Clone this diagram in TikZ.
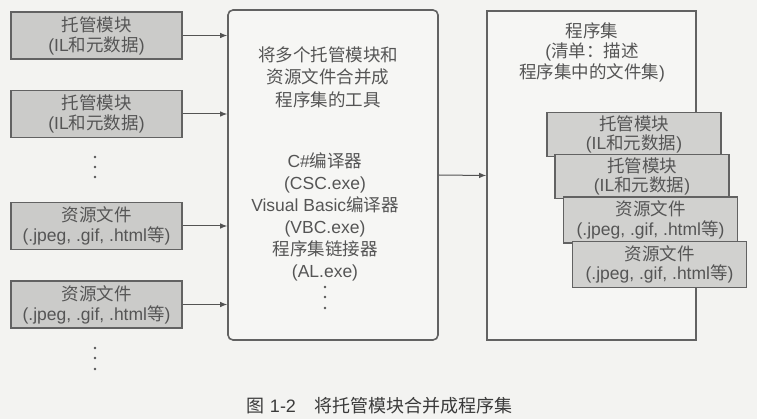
\documentclass[tikz,border=0pt]{standalone}
\usepackage{fontspec}
\setmainfont{Liberation Sans}
\newfontfamily\cjk{Noto Sans CJK SC}
\usetikzlibrary{arrows.meta}
\definecolor{bg}{HTML}{F3F3F1}
\definecolor{boxfill}{HTML}{CBCBC9}
\definecolor{stackfill}{HTML}{D1D1CF}
\definecolor{bordc}{HTML}{626262}
\definecolor{txt}{HTML}{555555}
\definecolor{capc}{HTML}{3A3A3A}
\definecolor{panel}{HTML}{F6F6F4}
\tikzset{
  modbox/.style={draw=bordc, line width=1.8pt, fill=boxfill, minimum width=171pt, minimum height=47pt, inner sep=0pt, align=center, text=txt, font=\fontsize{17.5}{20}\selectfont},
  stackbox/.style={draw=bordc, line width=1.8pt, fill=stackfill, minimum width=174pt, minimum height=44pt, inner sep=0pt, align=center, text=txt, font=\fontsize{17.5}{19.5}\selectfont},
  panelbox/.style={draw=bordc, line width=1.6pt, fill=panel, inner sep=0pt},
  lbl/.style={align=center, text=txt, inner sep=0pt},
  arr/.style={draw=bordc!85!black, line width=1pt, -{Latex[length=7pt,width=5.5pt]}},
  dot/.style={fill=txt}
}
\begin{document}
\begin{tikzpicture}[x=1pt,y=-1pt]
\fill[bg] (0,0) rectangle (757,419);
\useasboundingbox (0,0) rectangle (757,419);

% left input boxes
\node[modbox] (m1) at (96.5,35.5) {{\cjk 托管模块}\\({IL}{\cjk 和元数据})};
\node[modbox] (m2) at (96.5,114) {{\cjk 托管模块}\\({IL}{\cjk 和元数据})};
\node[modbox] (r1) at (96.5,226) {{\cjk 资源文件}\\(.jpeg, .gif, .html{\cjk 等})};
\node[modbox] (r2) at (96.5,304.5) {{\cjk 资源文件}\\(.jpeg, .gif, .html{\cjk 等})};
\foreach \yy in {157,167,177,348,358,369} \fill[dot] (95,\yy) circle (1.3pt);

% middle tool box
\node[panelbox, rounded corners=5pt, minimum width=210pt, minimum height=330pt] (mid) at (333,175) {};
\node[lbl, font=\fontsize{17.5}{22.5}\selectfont] (midt) at (328,77) {{\cjk 将多个托管模块和}\\{\cjk 资源文件合并成}\\{\cjk 程序集的工具}};
\node[lbl, font=\fontsize{17.5}{22}\selectfont] (midc) at (325,217) {C\#{\cjk 编译器}\\(CSC.exe)\\Visual Basic{\cjk 编译器}\\(VBC.exe)\\{\cjk 程序集链接器}\\(AL.exe)};
\foreach \yy in {287,297,308} \fill[dot] (325,\yy) circle (1.3pt);

% assembly box
\node[panelbox, minimum width=209pt, minimum height=329pt] (asm) at (591.5,175.5) {};
\node[lbl, font=\fontsize{17.5}{20.5}\selectfont] (asmt) at (592,52) {{\cjk 程序集}\\({\cjk 清单：描述}\\{\cjk 程序集中的文件集})};
\node[stackbox] (s1) at (634,134.5) {{\cjk 托管模块}\\({IL}{\cjk 和元数据})};
\node[stackbox] (s2) at (642,176.5) {{\cjk 托管模块}\\({IL}{\cjk 和元数据})};
\node[stackbox, minimum height=46pt] (s3) at (650.5,220) {{\cjk 资源文件}\\(.jpeg, .gif, .html{\cjk 等})};
\node[stackbox, minimum height=46pt] (s4) at (659.5,264.5) {{\cjk 资源文件}\\(.jpeg, .gif, .html{\cjk 等})};

% arrows
\draw[arr] (m1.east) -- (m1.east -| mid.west);
\draw[arr] (m2.east) -- (m2.east -| mid.west);
\draw[arr] (r1.east) -- (r1.east -| mid.west);
\draw[arr] (r2.east) -- (r2.east -| mid.west);
\draw[arr] (mid.east) -- (asm.west);

% caption
\node[inner sep=0pt, text=capc, font=\fontsize{18}{20}\selectfont] (cap) at (379.5,406) {{\cjk 图} 1-2\hspace{1em}{\cjk 将托管模块合并成程序集}};
\end{tikzpicture}
\end{document}
